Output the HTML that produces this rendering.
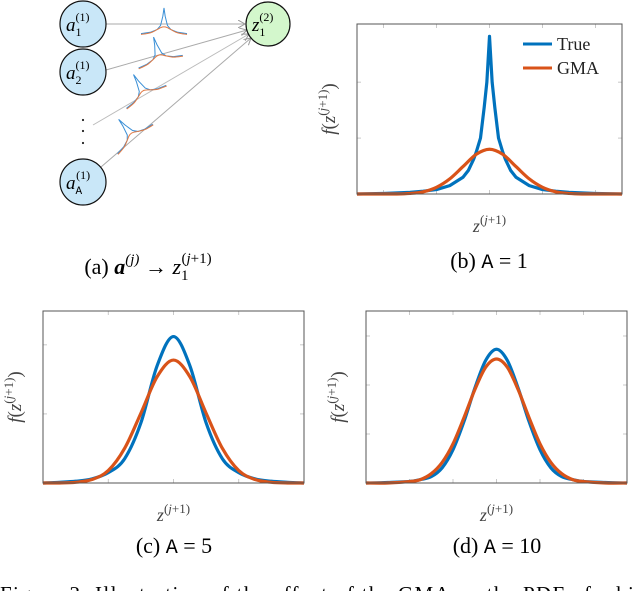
<!DOCTYPE html>
<html><head><meta charset="utf-8">
<style>
html,body{margin:0;padding:0;background:#fff;}
svg{display:block;font-family:"Liberation Serif",serif;}
</style></head>
<body>
<svg id="fig" width="640" height="591" viewBox="0 0 640 591" xmlns="http://www.w3.org/2000/svg">
  <defs>
    <marker id="arr" markerWidth="8" markerHeight="8" refX="7" refY="4" orient="auto" markerUnits="userSpaceOnUse">
      <path d="M0,0 L7,4 L0,8" fill="none" stroke="#999" stroke-width="1"/>
    </marker>
  </defs>
  <g>
    <line x1="106" y1="24" x2="245" y2="24" stroke="#aaa" stroke-width="1" marker-end="url(#arr)"/>
    <line x1="106" y1="70" x2="247" y2="30" stroke="#aaa" stroke-width="1" marker-end="url(#arr)"/>
    <line x1="93" y1="125" x2="249" y2="34" stroke="#bbb" stroke-width="1" marker-end="url(#arr)"/>
    <line x1="101" y1="167" x2="251" y2="38" stroke="#aaa" stroke-width="1" marker-end="url(#arr)"/>
    <g id="minis"></g>
    <circle cx="83" cy="24" r="23" fill="#c9e7f8" stroke="#111" stroke-width="1.2"/>
    <circle cx="83" cy="72" r="23" fill="#c9e7f8" stroke="#111" stroke-width="1.2"/>
    <circle cx="83" cy="182" r="23" fill="#c9e7f8" stroke="#111" stroke-width="1.2"/>
    <circle cx="268" cy="24" r="22" fill="#d3f7cc" stroke="#111" stroke-width="1.2"/>
    <text x="66" y="31" font-size="19" font-style="italic">a<tspan font-size="12" font-style="normal" dy="5">1</tspan><tspan font-size="12" font-style="normal" dx="-6" dy="-15">(1)</tspan></text>
    <text x="66" y="79" font-size="19" font-style="italic">a<tspan font-size="12" font-style="normal" dy="5">2</tspan><tspan font-size="12" font-style="normal" dx="-6" dy="-15">(1)</tspan></text>
    <text x="66" y="189" font-size="19" font-style="italic">a<tspan font-size="11" font-style="normal" font-family="Liberation Mono" dy="5">A</tspan><tspan font-size="12" font-style="normal" dx="-6" dy="-15">(1)</tspan></text>
    <text x="252" y="31" font-size="19" font-style="italic">z<tspan font-size="12" font-style="normal" dy="5">1</tspan><tspan font-size="12" font-style="normal" dx="-6" dy="-15">(2)</tspan></text>
    <circle cx="83" cy="120" r="1.1" fill="#222"/>
    <circle cx="83" cy="131" r="1.1" fill="#222"/>
    <circle cx="83" cy="143" r="1.1" fill="#222"/>
  </g>
  <text x="148" y="274" font-size="22" text-anchor="middle">(a) <tspan font-weight="bold" font-style="italic">a</tspan><tspan font-size="15" dy="-10" font-style="italic">(j)</tspan><tspan dy="10"> → </tspan><tspan font-style="italic">z</tspan><tspan font-size="15" dy="6">1</tspan><tspan font-size="15" dx="-7" dy="-17">(</tspan><tspan font-size="15" font-style="italic">j</tspan><tspan font-size="15">+1)</tspan></text>

  <g id="panels"></g>

  <text x="489" y="268" font-size="22" text-anchor="middle">(b) <tspan font-family="Liberation Mono" font-size="20">A</tspan> = 1</text>
  <text x="174" y="553" font-size="22" text-anchor="middle">(c) <tspan font-family="Liberation Mono" font-size="20">A</tspan> = 5</text>
  <text x="497" y="553" font-size="22" text-anchor="middle">(d) <tspan font-family="Liberation Mono" font-size="20">A</tspan> = 10</text>
  <text x="0" y="601" font-size="21" textLength="680">Figure 3: Illustration of the effect of the GMA on the PDF of a hidden</text>
</svg>
<script>
// Panel b data (A = 1)
const bTrueX = [-2.5,-2,-1.5,-1.25,-1,-0.75,-0.5,-0.4,-0.3,-0.25,-0.17,-0.1,-0.05,0,0.05,0.1,0.17,0.25,0.3,0.4,0.5,0.75,1,1.25,1.5,2,2.5];
const bTrueY = [0,0.01,0.03,0.05,0.08,0.15,0.30,0.42,0.62,0.75,1.0,1.55,2.0,2.82,2.0,1.55,1.0,0.75,0.62,0.42,0.30,0.15,0.08,0.05,0.03,0.01,0];
const bGmaX = [-2.5,-2,-1.75,-1.5,-1.25,-1,-0.75,-0.5,-0.25,0,0.25,0.5,0.75,1,1.25,1.5,1.75,2,2.5];
const bGmaY = [0,0,0,0.01,0.04,0.12,0.27,0.49,0.71,0.80,0.71,0.49,0.27,0.12,0.04,0.01,0,0,0];
// Panel c data (A = 5)
const cX = [-2,-1.75,-1.5,-1.25,-1,-0.75,-0.5,-0.25,0,0.25,0.5,0.75,1,1.25,1.5,1.75,2];
const cTrueY = [0,0.01,0.025,0.06,0.15,0.35,0.87,1.70,2.12,1.70,0.87,0.35,0.15,0.06,0.025,0.01,0];
const cGmaY = [0,0,0.01,0.05,0.18,0.50,1.01,1.54,1.78,1.54,1.01,0.50,0.18,0.05,0.01,0,0];
// Panel d data (A = 10)
const dX = [-3,-2.5,-2,-1.75,-1.5,-1.25,-1,-0.75,-0.5,-0.25,0,0.25,0.5,0.75,1,1.25,1.5,1.75,2,2.5,3];
const dTrueY = [0,0.01,0.03,0.07,0.13,0.31,0.68,1.25,1.93,2.50,2.73,2.50,1.93,1.25,0.68,0.31,0.13,0.07,0.03,0.01,0];
const dGmaY = [0,0,0.03,0.07,0.19,0.42,0.80,1.33,1.90,2.36,2.53,2.36,1.90,1.33,0.80,0.42,0.19,0.07,0.03,0,0];
// Tick values
const bXTicks = [-2,-1,0,1,2];
const bYTicks = [1,2];
const cXTicks = [-1,0,1];
const cYTicks = [1,2];
const dXTicks = [-2,-1,0,1,2];
const dYTicks = [1,2,3];

const NS = 'http://www.w3.org/2000/svg';
const BLUE = '#0072bd', ORANGE = '#d95319';
function mk(tag, attrs, parent){ const e=document.createElementNS(NS,tag); for(const k in attrs) e.setAttribute(k,attrs[k]); parent.appendChild(e); return e; }

function pathLinear(xs, ys, sx, sy){ return xs.map((x,i)=>(i?'L':'M')+sx(x).toFixed(2)+','+sy(ys[i]).toFixed(2)).join(''); }
function pathSmooth(xs, ys, sx, sy){
  const p = xs.map((x,i)=>[sx(x), sy(ys[i])]);
  let d='M'+p[0][0]+','+p[0][1];
  for(let i=0;i<p.length-1;i++){
    const p0=p[Math.max(0,i-1)], p1=p[i], p2=p[i+1], p3=p[Math.min(p.length-1,i+2)];
    const c1=[p1[0]+(p2[0]-p0[0])/6, p1[1]+(p2[1]-p0[1])/6];
    const c2=[p2[0]-(p3[0]-p1[0])/6, p2[1]-(p3[1]-p1[1])/6];
    d+='C'+c1[0].toFixed(2)+','+c1[1].toFixed(2)+' '+c2[0].toFixed(2)+','+c2[1].toFixed(2)+' '+p2[0].toFixed(2)+','+p2[1].toFixed(2);
  }
  return d;
}

function panel(cfg){
  const root=document.getElementById('panels');
  const g=mk('g',{},root);
  
  
  const sx = x => cfg.x0 + (x-cfg.xmin)/(cfg.xmax-cfg.xmin)*(cfg.x1-cfg.x0);
  const sy = y => cfg.y1 - (y-cfg.ymin)/(cfg.ymax-cfg.ymin)*(cfg.y1-cfg.y0);
  mk('rect',{x:cfg.x0,y:cfg.y0,width:cfg.x1-cfg.x0,height:cfg.y1-cfg.y0,fill:'#fff',stroke:'none'},g);
  cfg.xt.forEach(t=>{
    const a=mk('line',{x1:sx(t),x2:sx(t),y1:cfg.y1,y2:cfg.y1-4,stroke:'#bbb','stroke-width':0.8},g);
    
    
    const b=mk('line',{x1:sx(t),x2:sx(t),y1:cfg.y0,y2:cfg.y0+4,stroke:'#bbb','stroke-width':0.8},g);
    
    
  });
  cfg.yt.forEach(t=>{
    const a=mk('line',{x1:cfg.x0,x2:cfg.x0+4,y1:sy(t),y2:sy(t),stroke:'#bbb','stroke-width':0.8},g);
    
    
    const b=mk('line',{x1:cfg.x1,x2:cfg.x1-4,y1:sy(t),y2:sy(t),stroke:'#bbb','stroke-width':0.8},g);
    
    
  });
  const t=mk('path',{d:cfg.trueLinear?pathLinear(cfg.tx,cfg.ty,sx,sy):pathSmooth(cfg.tx,cfg.ty,sx,sy),fill:'none',stroke:BLUE,'stroke-width':3.2,'stroke-linejoin':'round'},g);
  
  
  const o=mk('path',{d:pathSmooth(cfg.gx,cfg.gy,sx,sy),fill:'none',stroke:ORANGE,'stroke-width':3.2,'stroke-linejoin':'round'},g);
  
  
  const fr=mk('rect',{x:cfg.x0,y:cfg.y0,width:cfg.x1-cfg.x0,height:cfg.y1-cfg.y0,fill:'none',stroke:'#555','stroke-width':1},g);
  
  
  const xl=mk('text',{x:(cfg.x0+cfg.x1)/2,y:cfg.y1+38,'font-size':18,'text-anchor':'middle',fill:'#444'},g);
  
  
  xl.innerHTML='<tspan font-style="italic">z</tspan><tspan font-size="13" dy="-8">(</tspan><tspan font-size="13" font-style="italic">j</tspan><tspan font-size="13">+1)</tspan>';
  const cy=(cfg.y0+cfg.y1)/2;
  const lx=cfg.x0-22;
  const yl=mk('text',{x:lx,y:cy,'font-size':19,'text-anchor':'middle',fill:'#444',transform:'rotate(-90 '+lx+' '+cy+')'},g);
  
  
  yl.innerHTML='<tspan font-style="italic">f</tspan>(<tspan font-style="italic">z</tspan><tspan font-size="13" dy="-8">(</tspan><tspan font-size="13" font-style="italic">j</tspan><tspan font-size="13">+1)</tspan><tspan dy="8">)</tspan>';
  return g;
}

const gb=panel({name:'chart-b',x0:357,x1:622,y0:24,y1:194,xmin:-2.5,xmax:2.5,ymin:0,ymax:3.04,xt:bXTicks,yt:bYTicks,tx:bTrueX,ty:bTrueY,gx:bGmaX,gy:bGmaY,trueLinear:true});
panel({name:'chart-c',x0:43,x1:304,y0:311,y1:483,xmin:-2,xmax:2,ymin:0,ymax:2.49,xt:cXTicks,yt:cYTicks,tx:cX,ty:cTrueY,gx:cX,gy:cGmaY});
panel({name:'chart-d',x0:366,x1:627,y0:311,y1:483,xmin:-3,xmax:3,ymin:0,ymax:3.51,xt:dXTicks,yt:dYTicks,tx:dX,ty:dTrueY,gx:dX,gy:dGmaY});

const lg=mk('g',{},gb);


const l1=mk('line',{x1:523,x2:552,y1:44,y2:44,stroke:BLUE,'stroke-width':3},lg);


const t1=mk('text',{x:557,y:50,'font-size':18,fill:'#222'},lg);


t1.textContent='True';
const l2=mk('line',{x1:523,x2:552,y1:68,y2:68,stroke:ORANGE,'stroke-width':3},lg);


const t2=mk('text',{x:557,y:74,'font-size':18,fill:'#222'},lg);


t2.textContent='GMA';

const miniX=[-1,-0.6,-0.3,-0.15,-0.05,0,0.05,0.15,0.3,0.6,1];
const miniTrue=[0.05,0.1,0.2,0.35,0.7,1,0.7,0.35,0.2,0.1,0.05];
const miniGma=[0.02,0.08,0.2,0.27,0.3,0.3,0.3,0.27,0.2,0.08,0.02];
const minis=document.getElementById('minis');
const miniPos=[[164,35,0],[161,63,-16],[147,98,-30],[136,140,-40]];
miniPos.forEach(p=>{
  const g=mk('g',{transform:'translate('+p[0]+','+p[1]+') rotate('+p[2]+')'},minis);
  
  
  const sx=x=>x*23, sy=y=>-y*27;
  mk('path',{d:pathLinear(miniX,miniTrue,sx,sy),fill:'none',stroke:'#3a8fd6','stroke-width':1},g);
  mk('path',{d:pathSmooth(miniX,miniGma,sx,sy),fill:'none',stroke:'#e07a45','stroke-width':1},g);
});
</script>
</body></html>
